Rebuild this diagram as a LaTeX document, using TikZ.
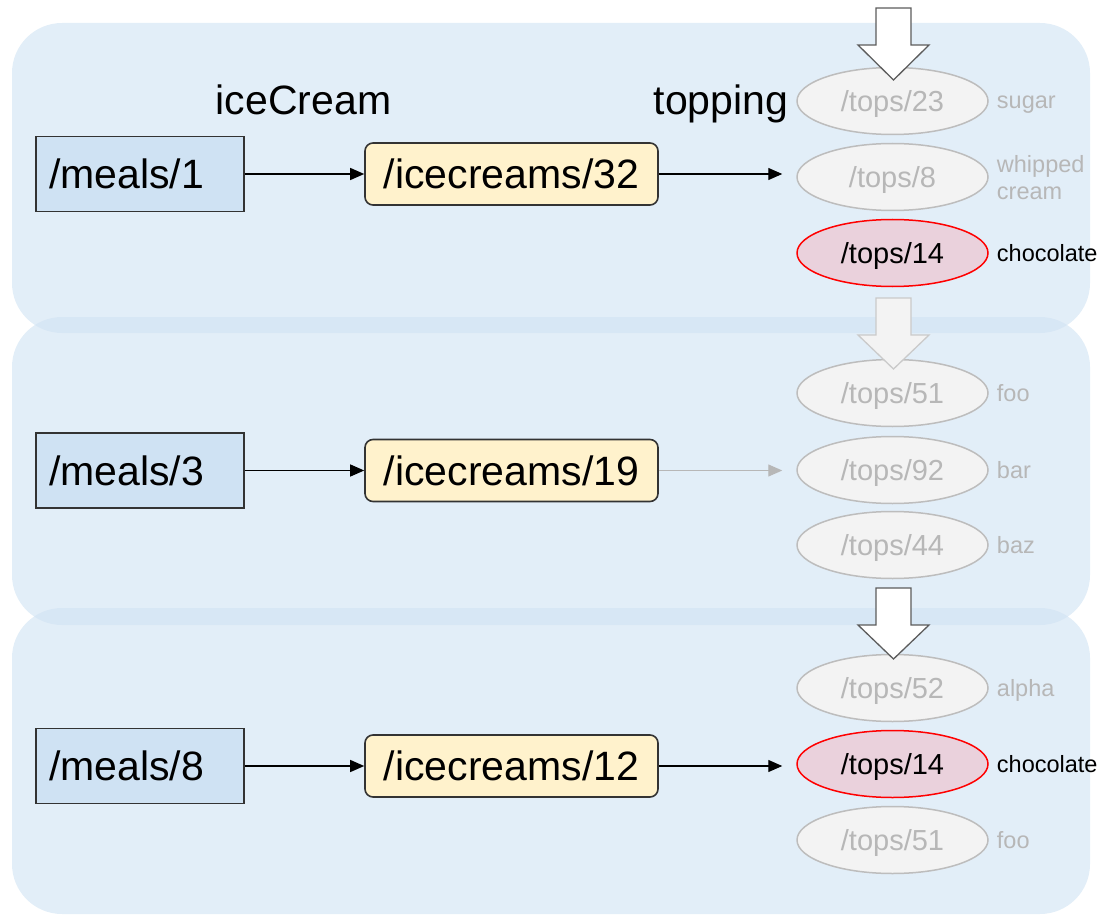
\documentclass[tikz,border=0pt]{standalone}
\usepackage{fontspec}
\setmainfont{Liberation Sans}
\usetikzlibrary{arrows.meta,shapes.geometric}
\definecolor{panelblue}{HTML}{CFE2F3}
\definecolor{mealfill}{HTML}{CFE2F3}
\definecolor{icfill}{HTML}{FFF2CC}
\definecolor{edgedark}{HTML}{333333}
\definecolor{fadetext}{HTML}{B7B7B7}
\definecolor{fadefill}{HTML}{F3F3F3}
\definecolor{fadeedge}{HTML}{BDBDBD}
\definecolor{chocfill}{HTML}{EAD1DC}
\definecolor{chocedge}{HTML}{FF0000}
\newcommand\mybigfont{\fontsize{41}{49}\selectfont}
\newcommand\mymidfont{\fontsize{29}{35}\selectfont}
\newcommand\mysmallfont{\fontsize{23.5}{27}\selectfont}
\begin{document}
\begin{tikzpicture}[x=1pt,y=-1pt,
  panel/.style={fill=panelblue, fill opacity=0.6, rounded corners=50pt},
  meal/.style={draw=edgedark, line width=1.8pt, fill=mealfill, minimum height=75pt,
    text width=182pt, align=left, inner xsep=13pt, inner ysep=0pt, font=\mybigfont},
  icbox/.style={draw=edgedark, line width=1.6pt, fill=icfill, rounded corners=8pt,
    minimum width=293pt, minimum height=62pt, inner sep=0pt, font=\mybigfont},
  topfade/.style={ellipse, draw=fadeedge, line width=1.5pt, fill=fadefill, text=fadetext,
    minimum width=191pt, minimum height=67pt, inner sep=0pt, text depth=0pt, font=\mymidfont},
  topchoc/.style={ellipse, draw=chocedge, line width=1.5pt, fill=chocfill, text=black,
    minimum width=191pt, minimum height=67pt, inner sep=0pt, text depth=0pt, font=\mymidfont},
  lblfade/.style={anchor=base west, inner sep=0pt, text=fadetext, font=\mysmallfont},
  lblchoc/.style={anchor=base west, inner sep=0pt, text=black, font=\mysmallfont},
  lbltwo/.style={anchor=west, inner sep=0pt, text=fadetext, font=\mysmallfont, align=left},
  link/.style={draw=black, line width=1.3pt, -{Triangle[length=14pt,width=12pt]}},
  linkfade/.style={draw=fadetext, line width=1.3pt, -{Triangle[length=14pt,width=12pt]}},
  bigarrow/.style={draw=edgedark!80, line width=1.3pt, fill=white, line join=miter},
  bigarrowfade/.style={draw=fadeedge!80, line width=1.3pt, fill=fadefill, line join=miter},
  head/.style={anchor=base, inner sep=0pt, font=\mybigfont}
]
\useasboundingbox (0,0) rectangle (1105,917);

% panels
\fill[panel] (12,23) rectangle (1090,333);
\fill[panel] (12,317) rectangle (1090,625);
\fill[panel] (12,608) rectangle (1090,914);

% headers
\node[head] (hic) at (303.5,115) {iceCream};
\node[head] (htop) at (721,115) {topping};

% panel 1
\node[meal] (m1) at (140,174) {/meals/1};
\node[icbox] (i1) at (511.5,174) {/icecreams/32};
\node[topfade] (t23) at (892.5,101) {/tops/23};
\node[topfade] (t8) at (892.5,177) {/tops/8};
\node[topchoc] (t14a) at (892.5,253) {/tops/14};
\node[lblfade] (l23) at ([xshift=8pt,yshift=-8pt]t23.east) {sugar};
\node[lbltwo] (l8) at ([xshift=8pt,yshift=-1pt]t8.east) {whipped\\cream};
\node[lblchoc] (l14a) at ([xshift=8pt,yshift=-8.5pt]t14a.east) {chocolate};
\draw[link] (m1) -- (i1);
\draw[link, shorten >=14pt] (i1) -- (i1 -| t8.west);

% panel 2
\node[meal] (m3) at (140,470.5) {/meals/3};
\node[icbox] (i2) at (511.5,470.5) {/icecreams/19};
\node[topfade] (t51a) at (892.5,393) {/tops/51};
\node[topfade] (t92) at (892.5,470) {/tops/92};
\node[topfade] (t44) at (892.5,545) {/tops/44};
\node[lblfade] (l51a) at ([xshift=8pt,yshift=-8pt]t51a.east) {foo};
\node[lblfade] (l92) at ([xshift=8pt,yshift=-8pt]t92.east) {bar};
\node[lblfade] (l44) at ([xshift=8pt,yshift=-8pt]t44.east) {baz};
\draw[link] (m3) -- (i2);
\draw[linkfade, shorten >=14pt] (i2) -- (i2 -| t92.west);

% panel 3
\node[meal] (m8) at (140,766) {/meals/8};
\node[icbox] (i3) at (511.5,766) {/icecreams/12};
\node[topfade] (t52) at (892.5,688) {/tops/52};
\node[topchoc] (t14b) at (892.5,764) {/tops/14};
\node[topfade] (t51b) at (892.5,840) {/tops/51};
\node[lblfade] (l52) at ([xshift=8pt,yshift=-8pt]t52.east) {alpha};
\node[lblchoc] (l14b) at ([xshift=8pt,yshift=-8.5pt]t14b.east) {chocolate};
\node[lblfade] (l51b) at ([xshift=8pt,yshift=-8pt]t51b.east) {foo};
\draw[link] (m8) -- (i3);
\draw[link, shorten >=14pt] (i3) -- (i3 -| t14b.west);

% big block arrows
\draw[bigarrow] (876,8) -- (911,8) -- (911,45) -- (929,45) -- (893.5,80) -- (858,45) -- (876,45) -- cycle;
\draw[bigarrowfade] (876,298) -- (911,298) -- (911,335) -- (929,335) -- (893.5,369) -- (858,335) -- (876,335) -- cycle;
\draw[bigarrow] (876,588) -- (911,588) -- (911,625) -- (929,625) -- (893.5,659) -- (858,625) -- (876,625) -- cycle;
\end{tikzpicture}
\end{document}
